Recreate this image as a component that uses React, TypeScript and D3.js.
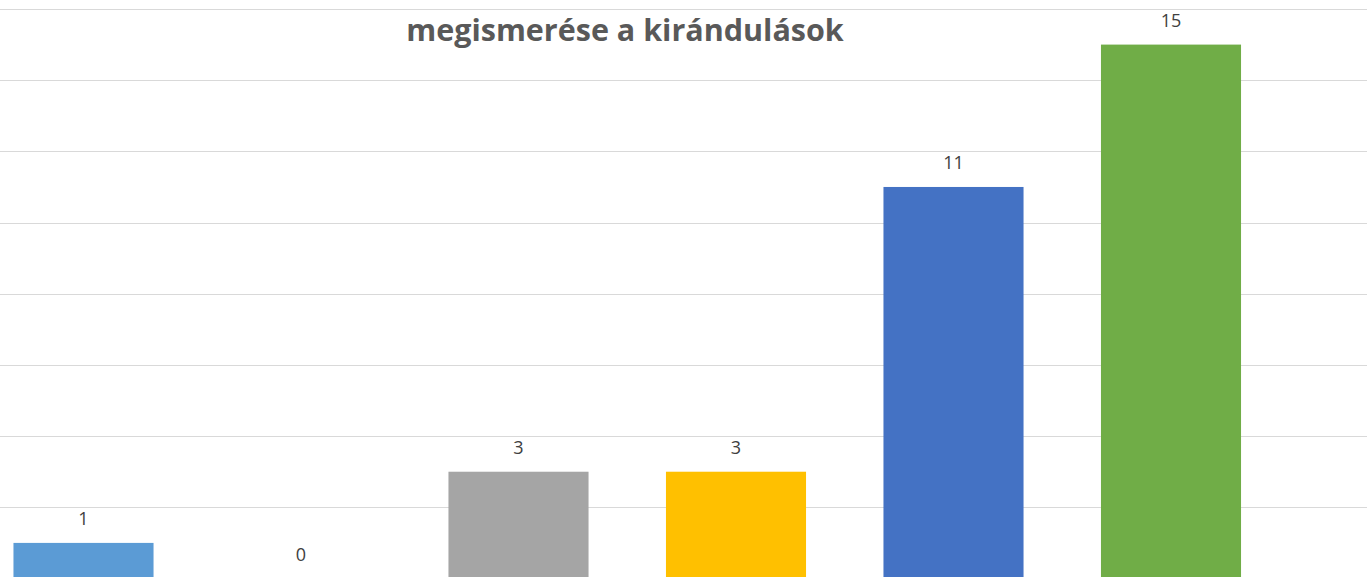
import React, { useEffect, useRef } from "react";
import * as d3 from "d3";

const categories = ["A", "B", "C", "D", "E", "F"];
const values = [1, 0, 3, 3, 11, 15];
const colors = ["#5B9BD5", "#ED7D31", "#A5A5A5", "#FFC000", "#4472C4", "#70AD47"];
const gridTicks = [0, 2, 4, 6, 8, 10, 12, 14, 16];
const titleText = "megismerése a kirándulások";

export default function App() {
  const svgRef = useRef<SVGSVGElement>(null);

  useEffect(() => {
    document.body.style.margin = "0";

    const width = 1367;
    const height = 577;

    const y = d3.scaleLinear().domain([0, 16]).range([578.5, 9]);
    const x = d3
      .scaleBand()
      .domain(categories)
      .range([-25.25, 1279.75])
      .paddingInner(0.356)
      .paddingOuter(0.178);

    const svg = d3
      .select(svgRef.current)
      .attr("width", width)
      .attr("height", height)
      .attr("viewBox", [0, 0, width, height]);

    svg.selectAll("*").remove();

    svg
      .append("rect")
      .attr("width", width)
      .attr("height", height)
      .attr("fill", "#ffffff");

    // gridlines
    svg
      .append("g")
      .selectAll("line")
      .data(gridTicks)
      .join("line")
      .attr("x1", 0)
      .attr("x2", width)
      .attr("y1", (d) => Math.round(y(d)) + 0.5)
      .attr("y2", (d) => Math.round(y(d)) + 0.5)
      .attr("stroke", "#d9d9d9")
      .attr("stroke-width", 1);

    // bars
    svg
      .append("g")
      .selectAll("rect")
      .data(values)
      .join("rect")
      .attr("x", (d, i) => x(categories[i])!)
      .attr("y", (d) => y(d))
      .attr("width", x.bandwidth())
      .attr("height", (d) => y(0) - y(d))
      .attr("fill", (d, i) => colors[i]);

    // data labels
    svg
      .append("g")
      .selectAll("text")
      .data(values)
      .join("text")
      .attr("x", (d, i) => x(categories[i])! + x.bandwidth() / 2)
      .attr("y", (d) => y(d) - 18)
      .attr("text-anchor", "middle")
      .attr("font-family", "'Open Sans', 'Liberation Sans', sans-serif")
      .attr("font-size", 18)
      .attr("fill", "#404040")
      .text((d) => d);

    // title (second line visible)
    svg
      .append("text")
      .attr("x", 625)
      .attr("y", 41)
      .attr("text-anchor", "middle")
      .attr("font-family", "'Open Sans', 'Liberation Sans', sans-serif")
      .attr("font-weight", "bold")
      .attr("font-size", 30.5)
      .attr("fill", "#595959")
      .text(titleText);
  }, []);

  return <svg ref={svgRef} style={{ display: "block" }} />;
}
